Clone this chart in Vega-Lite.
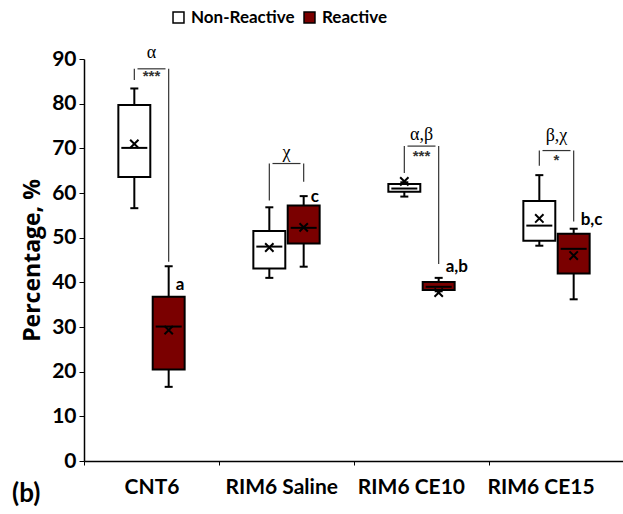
{
  "$schema": "https://vega.github.io/schema/vega-lite/v6.json",
  "autosize": "none",
  "width": 540,
  "height": 402,
  "padding": {"left": 84, "top": 59, "right": 0, "bottom": 53},
  "background": "white",
  "title": {"text": "(b)", "orient": "bottom", "anchor": "start", "frame": "group", "dx": -72, "dy": -20, "font": "Lato", "fontSize": 26, "fontWeight": "bold", "color": "black"},
  "config": {
    "view": {"stroke": null},
    "font": "Lato",
    "axis": {"grid": false, "domainColor": "black", "tickColor": "black", "labelColor": "black", "titleColor": "black", "labelFont": "Lato", "titleFont": "Open Sans", "labelFontWeight": "bold", "titleFontWeight": "bold"}
  },
  "datasets": {
    "boxes": [
      {"category": "CNT6", "group": "Non-Reactive", "min": 56.6, "q1": 63.6, "median": 70.1, "q3": 79.7, "max": 83.4, "mean": 71.0},
      {"category": "CNT6", "group": "Reactive", "min": 16.6, "q1": 20.5, "median": 30.1, "q3": 36.8, "max": 43.6, "mean": 29.3},
      {"category": "RIM6 Saline", "group": "Non-Reactive", "min": 41.0, "q1": 43.1, "median": 48.0, "q3": 51.5, "max": 56.8, "mean": 47.8},
      {"category": "RIM6 Saline", "group": "Reactive", "min": 43.5, "q1": 48.7, "median": 52.2, "q3": 57.2, "max": 59.3, "mean": 52.3},
      {"category": "RIM6 CE10", "group": "Non-Reactive", "min": 59.2, "q1": 60.3, "median": 61.0, "q3": 62.0, "max": 62.4, "mean": 62.6},
      {"category": "RIM6 CE10", "group": "Reactive", "min": 38.0, "q1": 38.3, "median": 39.0, "q3": 40.1, "max": 41.0, "mean": 37.7},
      {"category": "RIM6 CE15", "group": "Non-Reactive", "min": 48.2, "q1": 49.3, "median": 52.7, "q3": 58.2, "max": 64.0, "mean": 54.3},
      {"category": "RIM6 CE15", "group": "Reactive", "min": 36.2, "q1": 42.0, "median": 47.5, "q3": 50.9, "max": 52.0, "mean": 46.0}
    ],
    "legs": [
      {"category": "CNT6", "group": "Non-Reactive", "low": 85.3, "top": 87.8},
      {"category": "CNT6", "group": "Reactive", "low": 44.6, "top": 87.8},
      {"category": "RIM6 Saline", "group": "Non-Reactive", "low": 58.3, "top": 66.6},
      {"category": "RIM6 Saline", "group": "Reactive", "low": 62.5, "top": 66.6},
      {"category": "RIM6 CE10", "group": "Non-Reactive", "low": 64.5, "top": 70.5},
      {"category": "RIM6 CE10", "group": "Reactive", "low": 44.1, "top": 70.5},
      {"category": "RIM6 CE15", "group": "Non-Reactive", "low": 66.1, "top": 69.5},
      {"category": "RIM6 CE15", "group": "Reactive", "low": 53.6, "top": 69.5}
    ],
    "greek": [
      {"category": "CNT6", "label": "α", "value": 91.3},
      {"category": "RIM6 Saline", "label": "χ", "value": 69.0},
      {"category": "RIM6 CE10", "label": "α,β", "value": 73.0},
      {"category": "RIM6 CE15", "label": "β,χ", "value": 72.8}
    ],
    "stars": [
      {"category": "CNT6", "label": "***", "value": 86.3},
      {"category": "RIM6 CE10", "label": "***", "value": 68.3},
      {"category": "RIM6 CE15", "label": "*", "value": 67.3}
    ],
    "letters": [
      {"category": "CNT6", "group": "Reactive", "label": "a", "value": 39.4},
      {"category": "RIM6 Saline", "group": "Reactive", "label": "c", "value": 59.2},
      {"category": "RIM6 CE10", "group": "Reactive", "label": "a,b", "value": 43.5},
      {"category": "RIM6 CE15", "group": "Reactive", "label": "b,c", "value": 54.0}
    ]
  },
  "encoding": {
    "x": {"field": "category", "type": "nominal", "sort": ["CNT6", "RIM6 Saline", "RIM6 CE10", "RIM6 CE15"],
      "scale": {"paddingInner": 0, "paddingOuter": 0},
      "axis": {"title": null, "labelAngle": 0, "labelFontSize": 21, "tickBand": "extent", "tickSize": 4, "labelPadding": 11, "domainWidth": 1.5,
        "labelOffset": {"expr": "-5.3 * indexof(['CNT6', 'RIM6 Saline', 'RIM6 CE10', 'RIM6 CE15'], datum.value)"}}}
  },
  "layer": [
    {
      "data": {"name": "legs"},
      "mark": {"type": "rule", "color": "#333333", "strokeWidth": 1.2},
      "encoding": {
        "xOffset": {"field": "group", "type": "nominal", "scale": {"domain": ["Non-Reactive", "Reactive"], "paddingInner": 0.07, "paddingOuter": 1.446}},
        "y": {"field": "low", "type": "quantitative", "scale": {"domain": [0, 90]},
          "axis": {"title": "Percentage, %", "titleFontSize": 23, "titlePadding": 7, "values": [0, 10, 20, 30, 40, 50, 60, 70, 80, 90], "labelFontSize": 21, "tickSize": 5, "labelPadding": 3, "domainWidth": 1.5}},
        "y2": {"field": "top"}
      }
    },
    {
      "data": {"name": "legs"},
      "transform": [{"filter": "datum.group == 'Reactive'"}],
      "mark": {"type": "tick", "color": "#333333", "thickness": 1.2, "size": 28, "opacity": 1},
      "encoding": {"y": {"field": "top", "type": "quantitative"}}
    },
    {
      "data": {"name": "boxes"},
      "mark": {"type": "rule", "color": "black", "strokeWidth": 2},
      "encoding": {
        "xOffset": {"field": "group", "type": "nominal"},
        "y": {"field": "min", "type": "quantitative"},
        "y2": {"field": "max"}
      }
    },
    {
      "data": {"name": "boxes"},
      "mark": {"type": "tick", "color": "black", "thickness": 2, "size": 8, "opacity": 1},
      "encoding": {"xOffset": {"field": "group", "type": "nominal"}, "y": {"field": "min", "type": "quantitative"}}
    },
    {
      "data": {"name": "boxes"},
      "mark": {"type": "tick", "color": "black", "thickness": 2, "size": 8, "opacity": 1},
      "encoding": {"xOffset": {"field": "group", "type": "nominal"}, "y": {"field": "max", "type": "quantitative"}}
    },
    {
      "data": {"name": "boxes"},
      "mark": {"type": "bar", "stroke": "black", "strokeWidth": 2},
      "encoding": {
        "xOffset": {"field": "group", "type": "nominal"},
        "y": {"field": "q1", "type": "quantitative"},
        "y2": {"field": "q3"},
        "fill": {"field": "group", "type": "nominal", "scale": {"domain": ["Non-Reactive", "Reactive"], "range": ["white", "#7a0000"]},
          "legend": {"title": null, "orient": "none", "direction": "horizontal", "legendX": 86, "legendY": -50, "symbolType": "square", "symbolSize": 120, "symbolStrokeColor": "black", "symbolStrokeWidth": 1.5, "labelFont": "Lato", "labelFontWeight": "bold", "labelFontSize": 17, "labelColor": "black", "columnPadding": 6, "labelOffset": 4}}
      }
    },
    {
      "data": {"name": "boxes"},
      "mark": {"type": "tick", "color": "black", "thickness": 2, "size": 26, "opacity": 1},
      "encoding": {"xOffset": {"field": "group", "type": "nominal"}, "y": {"field": "median", "type": "quantitative"}}
    },
    {
      "data": {"name": "boxes"},
      "mark": {"type": "point", "shape": "M-1,-1L1,1M-1,1L1,-1", "filled": false, "stroke": "black", "strokeWidth": 2, "size": 70, "opacity": 1},
      "encoding": {"xOffset": {"field": "group", "type": "nominal"}, "y": {"field": "mean", "type": "quantitative"}}
    },
    {
      "data": {"name": "greek"},
      "mark": {"type": "text", "font": "Liberation Serif", "fontSize": 18, "color": "black", "baseline": "middle"},
      "encoding": {"y": {"field": "value", "type": "quantitative"}, "text": {"field": "label"}}
    },
    {
      "data": {"name": "stars"},
      "mark": {"type": "text", "font": "Liberation Sans", "fontSize": 15, "fontWeight": "bold", "color": "#333333", "baseline": "middle"},
      "encoding": {"y": {"field": "value", "type": "quantitative"}, "text": {"field": "label"}}
    },
    {
      "data": {"name": "letters"},
      "mark": {"type": "text", "font": "Lato", "fontSize": 17, "fontWeight": "bold", "color": "black", "align": "left", "baseline": "middle", "dx": 7},
      "encoding": {"xOffset": {"field": "group", "type": "nominal"}, "y": {"field": "value", "type": "quantitative"}, "text": {"field": "label"}}
    }
  ]
}
